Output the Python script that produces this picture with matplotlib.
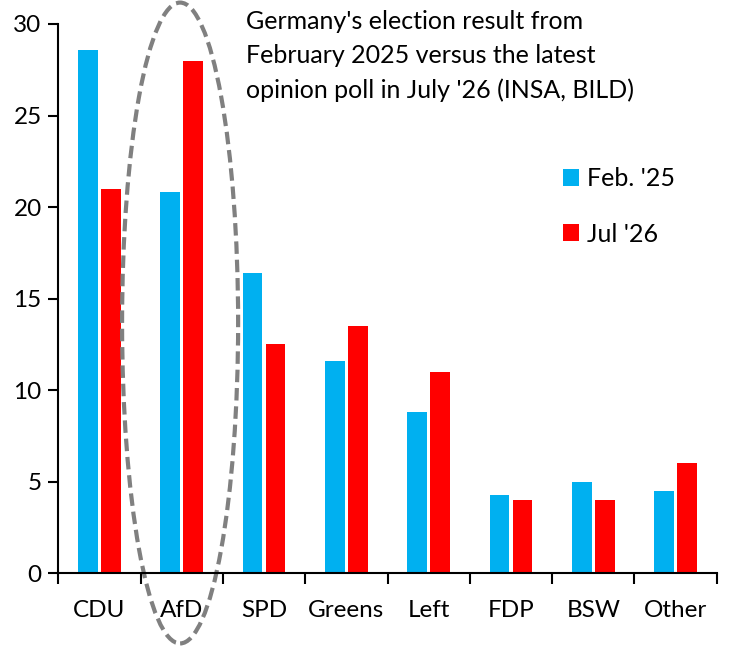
import matplotlib.pyplot as plt
import numpy as np
from matplotlib.patches import Ellipse

parties = ['CDU', 'AfD', 'SPD', 'Greens', 'Left', 'FDP', 'BSW', 'Other']
feb_25 = [28.6, 20.8, 16.4, 11.6, 8.8, 4.3, 5.0, 4.5]
jul_26 = [21.0, 28.0, 12.5, 13.5, 11.0, 4.0, 4.0, 6.0]

plt.rcParams['font.family'] = ['Lato', 'DejaVu Sans']

fig = plt.figure(figsize=(7.3, 6.55), dpi=100)
ax = fig.add_axes([58.3 / 730, 1 - 573.3 / 655, (716.7 - 58.3) / 730, (573.3 - 24) / 655])

x = np.arange(len(parties))
w = 0.24
ax.bar(x - 0.14, feb_25, w, color='#00B0F0', label="Feb. '25")
ax.bar(x + 0.14, jul_26, w, color='#FF0000', label="Jul '26")

ax.set_xlim(-0.5, len(parties) - 0.5)
ax.set_ylim(0, 30)
ax.set_yticks(range(0, 31, 5))

# category labels between the boundary ticks
ax.set_xticks(x)
ax.set_xticklabels(parties)
ax.set_xticks(np.arange(-0.5, len(parties)), minor=True)
ax.tick_params(axis='x', which='major', length=0, pad=19, labelsize=17.5)
ax.tick_params(axis='x', which='minor', length=8, width=1.5, direction='out')
ax.tick_params(axis='y', length=7, width=1.5, direction='out', pad=5, labelsize=17.5)

for s in ['top', 'right']:
    ax.spines[s].set_visible(False)
for s in ['left', 'bottom']:
    ax.spines[s].set_linewidth(1.5)

# dashed ellipse around AfD
ell = Ellipse((0.98, 13.67), 1.41, 35.0, fill=False, edgecolor='#808080',
              linestyle=(0, (3, 1.4)), linewidth=3, clip_on=False)
ax.add_patch(ell)

fig.text(246 / 730, 1 - 10 / 655,
         "Germany's election result from\nFebruary 2025 versus the latest\nopinion poll in July '26 (INSA, BILD)",
         fontsize=18, va='top', ha='left', linespacing=1.58)

ax.legend(loc='upper left', bbox_to_anchor=(553 / 730, 1 - 157 / 655),
          bbox_transform=fig.transFigure, frameon=False, fontsize=18,
          handlelength=0.65, handleheight=0.65, handletextpad=0.3,
          labelspacing=1.3, borderaxespad=0)

fig.savefig('out.png', dpi=100)
